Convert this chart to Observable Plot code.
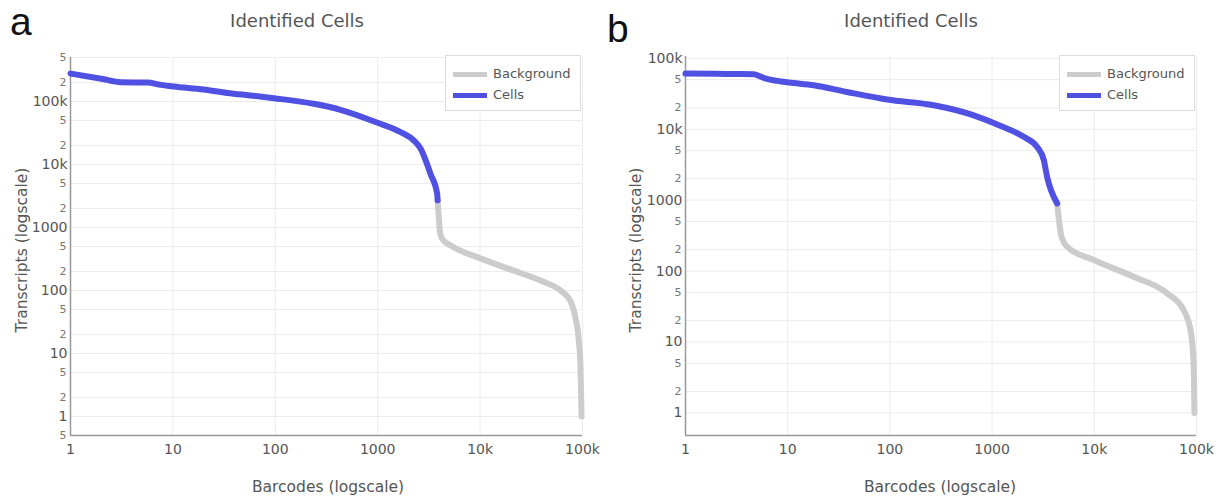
<!DOCTYPE html>
<html><head><meta charset="utf-8">
<script src="https://cdn.jsdelivr.net/npm/d3@7"></script>
<script src="https://cdn.jsdelivr.net/npm/@observablehq/plot@0.6"></script>
<style>
body{margin:0;background:#fff;font-family:"DejaVu Sans",Verdana,sans-serif;}
#wrap{position:relative;width:1222px;height:500px;overflow:hidden;background:#fff;}
.panel{position:absolute;top:0;width:611px;height:500px;}
.letter{position:absolute;font-family:"Liberation Sans",Arial,sans-serif;font-size:39px;line-height:39px;color:#111;}
.title{position:absolute;top:10px;font-size:18px;color:#555;transform:translateX(-50%);white-space:nowrap;}
.xtitle{position:absolute;top:478px;font-size:15.5px;color:#555;transform:translateX(-50%);white-space:nowrap;}
.ytitle{position:absolute;font-size:15.5px;color:#555;white-space:nowrap;transform:translate(-50%,-50%) rotate(-90deg);}
.legend{position:absolute;top:55px;width:136px;height:56px;border:1px solid #ddd;background:#fff;box-sizing:border-box;}
.legend .sw{position:absolute;left:7px;width:34px;height:5px;}
.legend .lb{position:absolute;left:47px;font-size:13px;color:#555;white-space:nowrap;line-height:16px;}
</style>
</head><body>
<div id="wrap"></div>
<script>
// ---- Data ----
const chartTitle = "Identified Cells";
const xLabel = "Barcodes (logscale)";
const yLabel = "Transcripts (logscale)";
const seriesNames = ["Background", "Cells"];
const seriesColors = ["#cccccc", "#5050e2"];

const xTicks = [1, 10, 100, 1000, 10000, 100000];
const xTickLabels = ["1", "10", "100", "1000", "10k", "100k"];
const yMajorTicks = [1, 10, 100, 1000, 10000, 100000];
const yMajorLabels = ["1", "10", "100", "1000", "10k", "100k"];
const aYMinorTicks = [0.5, 2, 5, 20, 50, 200, 500, 2000, 5000, 20000, 50000, 200000, 500000];
const bYMinorTicks = [2, 5, 20, 50, 200, 500, 2000, 5000, 20000, 50000];

// Panel a
const aCellRanks  = [1, 2, 3.1, 5.6, 7.6, 10.2, 20, 34, 60, 97, 237, 433, 1000, 1660, 2260, 2620, 3280, 3810, 3850];
const aCellCounts = [278000, 230000, 202000, 200000, 184000, 173000, 155000, 137000, 124000, 113000, 92000, 74000, 46000, 33000, 24000, 18000, 7100, 3400, 2700];
const aBgRanks  = [3850, 3950, 4040, 4260, 5540, 9360, 21300, 38900, 61000, 76000, 85000, 92000, 95600, 97800, 98000];
const aBgCounts = [2700, 1500, 895, 660, 486, 339, 207, 144, 100, 69, 38, 16, 6, 1.1, 1];

// Panel b
const bCellRanks  = [1, 2, 3, 4.66, 5, 6, 7.9, 10.3, 18, 38, 94, 269, 661, 1150, 2040, 2760, 3200, 3460, 4330];
const bCellCounts = [60800, 60500, 60000, 59600, 58000, 52000, 48000, 45500, 41700, 33500, 26200, 21800, 15700, 11500, 7800, 5600, 3700, 2100, 900];
const bBgRanks  = [4330, 4600, 4740, 5430, 9880, 24300, 51600, 75000, 88700, 94000, 95500];
const bBgCounts = [900, 420, 321, 220, 143, 83, 48.5, 28, 13, 4.5, 1];

const panels = [
  {letter: "a", left: 0, xDomain: [1, 100000], yDomain: [0.5, 500000], yMinor: aYMinorTicks,
   cells: [aCellRanks, aCellCounts], bg: [aBgRanks, aBgCounts],
   margin: {left: 70, right: 29, top: 57, bottom: 65},
   letterX: 10, letterY: 2, titleX: 297, xTitleX: 328, yTitleX: 22, legendX: 445},
  {letter: "b", left: 611, xDomain: [1, 100000], yDomain: [0.48, 106000], yMinor: bYMinorTicks,
   cells: [bCellRanks, bCellCounts], bg: [bBgRanks, bBgCounts],
   margin: {left: 74, right: 26, top: 56, bottom: 65},
   letterX: 607, letterY: 9, titleX: 911, xTitleX: 940, yTitleX: 636, legendX: 1059}
];

const toRows = ([xs, ys]) => xs.map((x, i) => ({rank: x, count: ys[i]}));
const majorFmt = (d) => yMajorLabels[yMajorTicks.indexOf(d)];
const minorFmt = (d) => String(Math.round(d / Math.pow(10, Math.floor(Math.log10(d) + 1e-9))));
const xFmt = (d) => xTickLabels[xTicks.indexOf(d)];

const wrap = document.getElementById("wrap");

for (const p of panels) {
  const div = document.createElement("div");
  div.className = "panel";
  div.style.left = p.left + "px";
  const inY = v => v >= p.yDomain[0] && v <= p.yDomain[1];
  const yAll = [...yMajorTicks, ...p.yMinor].filter(inY);
  const chart = Plot.plot({
    width: 611, height: 500,
    marginLeft: p.margin.left, marginRight: p.margin.right,
    marginTop: p.margin.top, marginBottom: p.margin.bottom,
    style: {fontFamily: '"DejaVu Sans", Verdana, sans-serif', color: "#555", background: "#fff", overflow: "visible"},
    x: {type: "log", domain: p.xDomain},
    y: {type: "log", domain: p.yDomain},
    marks: [
      Plot.gridY(yAll, {stroke: "#ececec", strokeOpacity: 1, strokeWidth: 1}),
      Plot.gridX(xTicks, {stroke: "#ececec", strokeOpacity: 1, strokeWidth: 1}),
      Plot.axisY({ticks: yMajorTicks.filter(inY), tickSize: 0, tickPadding: 3, fontSize: 14, tickFormat: majorFmt, label: null, fill: "#555"}),
      Plot.text(p.yMinor.filter(inY), {y: d => d, text: minorFmt, frameAnchor: "left", textAnchor: "end", dx: -4, fontSize: 11, fill: "#777"}),
      Plot.axisX({ticks: xTicks, tickSize: 0, tickPadding: 9, fontSize: 14, tickFormat: xFmt, label: null, fill: "#555"}),
      Plot.ruleY([p.yDomain[0]], {stroke: "#999", strokeWidth: 1.5}),
      Plot.ruleX([p.xDomain[0]], {stroke: "#999", strokeWidth: 1.5}),
      Plot.line(toRows(p.bg), {x: "rank", y: "count", stroke: seriesColors[0], strokeWidth: 6, curve: "monotone-x"}),
      Plot.line(toRows(p.cells), {x: "rank", y: "count", stroke: seriesColors[1], strokeWidth: 6, curve: "monotone-x"})
    ]
  });
  div.appendChild(chart);
  wrap.appendChild(div);

  const letter = document.createElement("div");
  letter.className = "letter"; letter.textContent = p.letter;
  letter.style.left = p.letterX + "px"; letter.style.top = p.letterY + "px";
  wrap.appendChild(letter);

  const title = document.createElement("div");
  title.className = "title"; title.textContent = chartTitle; title.style.left = p.titleX + "px";
  wrap.appendChild(title);

  const xt = document.createElement("div");
  xt.className = "xtitle"; xt.textContent = xLabel; xt.style.left = p.xTitleX + "px";
  wrap.appendChild(xt);

  const yt = document.createElement("div");
  yt.className = "ytitle"; yt.textContent = yLabel; yt.style.left = p.yTitleX + "px"; yt.style.top = "250px";
  wrap.appendChild(yt);

  const lg = document.createElement("div");
  lg.className = "legend"; lg.style.left = p.legendX + "px";
  seriesNames.forEach((name, i) => {
    const sw = document.createElement("div");
    sw.className = "sw"; sw.style.background = seriesColors[i]; sw.style.top = (16 + i * 21) + "px";
    const lb = document.createElement("div");
    lb.className = "lb"; lb.textContent = name; lb.style.top = (10 + i * 21) + "px";
    lg.appendChild(sw); lg.appendChild(lb);
  });
  wrap.appendChild(lg);
}
</script>
</body></html>
